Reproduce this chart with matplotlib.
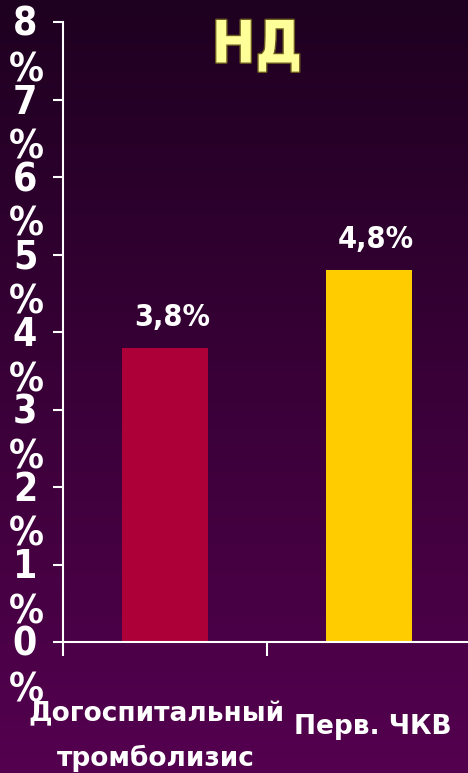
import numpy as np
import matplotlib
matplotlib.use("Agg")
import matplotlib.pyplot as plt
import matplotlib.patheffects as pe
from matplotlib.colors import LinearSegmentedColormap

# data
categories = ["Догоспитальный\nтромболизис", "Перв. ЧКВ"]
values = [3.8, 4.8]
value_labels = ["3,8%", "4,8%"]
bar_colors = ["#AD0038", "#FFCC00"]
y_ticks = [0, 1, 2, 3, 4, 5, 6, 7, 8]
title = "НД"

narrow = dict(family="DejaVu Sans", stretch="condensed", weight="bold")

W, H = 468, 773
fig = plt.figure(figsize=(W / 100, H / 100), dpi=100)

# dark-to-purple vertical gradient background
bg = fig.add_axes([0, 0, 1, 1], zorder=-10)
grad = np.linspace(0, 1, 256).reshape(-1, 1)
cmap = LinearSegmentedColormap.from_list("bg", ["#1E0020", "#54004F"])
bg.imshow(grad, aspect="auto", cmap=cmap, extent=[0, 1, 0, 1], origin="upper")
bg.axis("off")

left, right = 63 / W, 471 / W
bottom, top = 1 - 642 / H, 1 - 22 / H
ax = fig.add_axes([left, bottom, right - left, top - bottom])
ax.set_facecolor("none")

x = np.arange(len(values))
ax.bar(x, values, width=0.42, color=bar_colors, zorder=2)
ax.set_xlim(-0.5, 1.5)
ax.set_ylim(0, 8)

for s in ["top", "right"]:
    ax.spines[s].set_visible(False)
for s in ["left", "bottom"]:
    ax.spines[s].set_color("white")
    ax.spines[s].set_linewidth(1.5)

ax.set_yticks(y_ticks)
ax.set_yticklabels([])
ax.tick_params(axis="y", colors="white", length=7, width=1.5, direction="out")
ax.set_xticks([-0.5, 0.5])
ax.set_xticklabels([])
ax.tick_params(axis="x", colors="white", length=10, width=1.5, direction="out")

# y tick labels: number with a percent sign underneath
for v in y_ticks:
    ax.annotate(str(v), xy=(0, v), xycoords=("axes fraction", "data"),
                xytext=(-38, -3), textcoords="offset pixels",
                ha="center", va="center", color="white", fontsize=28, **narrow)
    ax.annotate("%", xy=(0, v), xycoords=("axes fraction", "data"),
                xytext=(-37, -48), textcoords="offset pixels",
                ha="center", va="center", color="white", fontsize=28,
                annotation_clip=False, **narrow)

# value labels above bars
for xi, v, lab in zip(x, values, value_labels):
    ax.annotate(lab, xy=(xi, v), xytext=(7, 22), textcoords="offset pixels",
                ha="center", va="baseline", color="white", fontsize=22, **narrow)

# category labels
cat_font = dict(color="white", fontsize=19, fontweight="bold", family="DejaVu Sans",
                ha="center", va="center")
fig.text(156 / W, 1 - 714 / H, "Догоспитальный", **cat_font)
fig.text(156 / W, 1 - 758 / H, "тромболизис", **cat_font)
fig.text(373 / W, 1 - 727 / H, categories[1], **cat_font)

# title
fig.text(257 / W, 1 - 46 / H, title, ha="center", va="center",
         color="#FFFF99", fontsize=42, **narrow,
         path_effects=[pe.withStroke(linewidth=2, foreground="#6B5A20")])

fig.savefig("out.png", dpi=100)
